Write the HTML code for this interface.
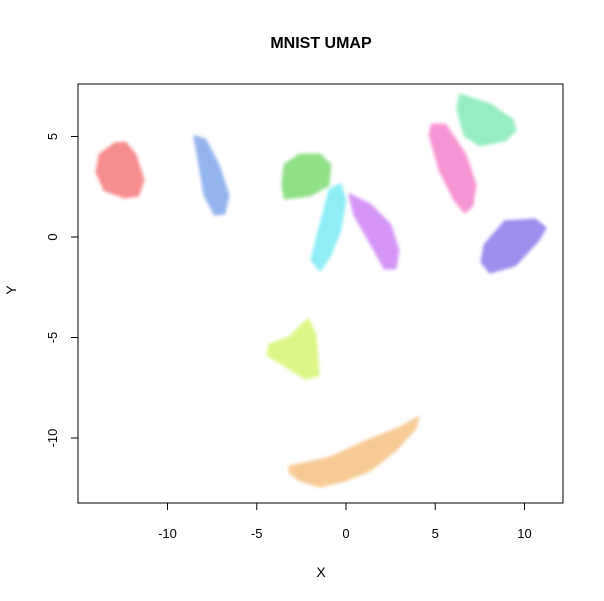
<!DOCTYPE html>
<html><head><meta charset="utf-8"><style>
html,body{margin:0;padding:0;background:#fff;}
svg{display:block;font-family:"Liberation Sans",Arial,sans-serif;}
</style></head><body>
<svg id="chart" width="604" height="601" viewBox="0 0 604 601">
<defs><filter id="soft" x="-20%" y="-20%" width="140%" height="140%"><feGaussianBlur stdDeviation="1.6"/></filter></defs>
<text x="321" y="48" text-anchor="middle" font-size="16" font-weight="bold">MNIST UMAP</text>
<rect x="78" y="84" width="485" height="419" fill="none" stroke="#000" stroke-width="1"/>
<g id="clusters"></g>
<g id="xaxis"></g>
<g id="yaxis"></g>
<text x="321" y="577" text-anchor="middle" font-size="14">X</text>
<text x="16" y="290" text-anchor="middle" font-size="14" transform="rotate(-90 16 290)">Y</text>
</svg>
<script>
const xTicks = [-10,-5,0,5,10];
const yTicks = [-10,-5,0,5];
const clusterNames = ["digit-red","digit-blue","digit-green","digit-cyan","digit-purple","digit-pink","digit-seafoam","digit-violet","digit-lime","digit-orange"];
const clusterColors = ["#f03030","#3a78e0","#38c828","#30e0f0","#b440f0","#f040b0","#40e090","#5030e0","#c0f020","#f0a040"];
const clusterX = [
 [-13.78,-12.94,-12.38,-11.82,-11.37,-11.65,-12.38,-13.50,-13.95],
 [-8.46,-7.90,-7.17,-6.61,-6.83,-7.34,-7.90,-8.18],
 [-3.42,-2.58,-1.46,-0.90,-1.01,-2.02,-3.42,-3.53],
 [-0.90,-0.34,-0.06,-0.34,-0.90,-1.46,-1.90,-1.57,-1.18],
 [0.22,1.34,2.46,2.91,2.75,2.18,1.46,0.50],
 [4.82,5.55,6.67,7.23,7.06,6.67,6.11,5.27,4.71],
 [6.39,8.07,9.30,9.47,8.91,7.51,6.67,6.27],
 [8.91,10.59,11.15,10.76,9.47,8.07,7.62,7.79],
 [-4.26,-3.14,-2.13,-1.74,-1.57,-2.30,-3.42,-4.37],
 [-3.14,-0.90,1.34,3.03,4.03,3.87,2.75,1.34,-0.06,-1.46,-2.58,-3.14]
];
const clusterY = [
 [4.08,4.63,4.68,4.08,2.84,2.09,1.99,2.34,3.23],
 [4.98,4.83,3.58,2.09,1.19,1.14,2.09,3.58],
 [3.58,4.08,4.08,3.58,2.59,2.09,1.94,2.59],
 [2.34,2.59,1.84,0.35,-0.90,-1.64,-1.14,0.10,1.34],
 [2.09,1.59,0.60,-0.65,-1.54,-1.54,-0.40,1.09],
 [5.57,5.57,4.08,2.59,1.59,1.24,1.84,3.33,5.07],
 [7.06,6.57,5.82,5.32,4.83,4.58,5.07,6.32],
 [0.75,0.85,0.45,-0.15,-1.39,-1.74,-1.24,-0.40],
 [-5.37,-5.02,-4.13,-4.88,-6.87,-7.01,-6.37,-5.87],
 [-11.44,-11.00,-10.10,-9.50,-9.00,-9.50,-10.60,-11.59,-12.09,-12.39,-12.09,-11.69]
];
const NS="http://www.w3.org/2000/svg";
function sx(v){return 346+v*17.85;}
function sy(v){return 237-v*20.1;}
const cg=document.getElementById('clusters');
clusterNames.forEach((n,i)=>{
  const pts=clusterX[i].map((x,j)=>sx(x).toFixed(1)+","+sy(clusterY[i][j]).toFixed(1)).join(" ");
  const p=document.createElementNS(NS,'polygon');
  p.setAttribute('points',pts);
  p.setAttribute('fill',clusterColors[i]);
  p.setAttribute('stroke',clusterColors[i]);
  p.setAttribute('stroke-width','3');
  p.setAttribute('stroke-linejoin','round');
  p.setAttribute('opacity','0.55');
  p.setAttribute('filter','url(#soft)');
  
  
  cg.appendChild(p);
});
const xg=document.getElementById('xaxis');
let l=document.createElementNS(NS,'line');
l.setAttribute('x1',sx(xTicks[0]));l.setAttribute('x2',sx(xTicks[xTicks.length-1]));
l.setAttribute('y1',503);l.setAttribute('y2',503);l.setAttribute('stroke','#000');


xg.appendChild(l);
xTicks.forEach(t=>{
  const tk=document.createElementNS(NS,'line');
  tk.setAttribute('x1',sx(t));tk.setAttribute('x2',sx(t));tk.setAttribute('y1',503);tk.setAttribute('y2',510);tk.setAttribute('stroke','#000');
  
  
  xg.appendChild(tk);
  const tx=document.createElementNS(NS,'text');
  tx.setAttribute('x',sx(t));tx.setAttribute('y',538);tx.setAttribute('text-anchor','middle');tx.setAttribute('font-size','13');
  tx.textContent=t;
  
  
  xg.appendChild(tx);
});
const yg=document.getElementById('yaxis');
l=document.createElementNS(NS,'line');
l.setAttribute('x1',78);l.setAttribute('x2',78);
l.setAttribute('y1',sy(yTicks[0]));l.setAttribute('y2',sy(yTicks[yTicks.length-1]));l.setAttribute('stroke','#000');


yg.appendChild(l);
yTicks.forEach(t=>{
  const tk=document.createElementNS(NS,'line');
  tk.setAttribute('x1',71);tk.setAttribute('x2',78);tk.setAttribute('y1',sy(t));tk.setAttribute('y2',sy(t));tk.setAttribute('stroke','#000');
  
  
  yg.appendChild(tk);
  const tx=document.createElementNS(NS,'text');
  const y=sy(t);
  tx.setAttribute('x',57);tx.setAttribute('y',y);tx.setAttribute('text-anchor','middle');tx.setAttribute('font-size','13');
  tx.setAttribute('transform','rotate(-90 57 '+y+')');
  tx.textContent=t;
  
  
  yg.appendChild(tx);
});
</script>
</body></html>
